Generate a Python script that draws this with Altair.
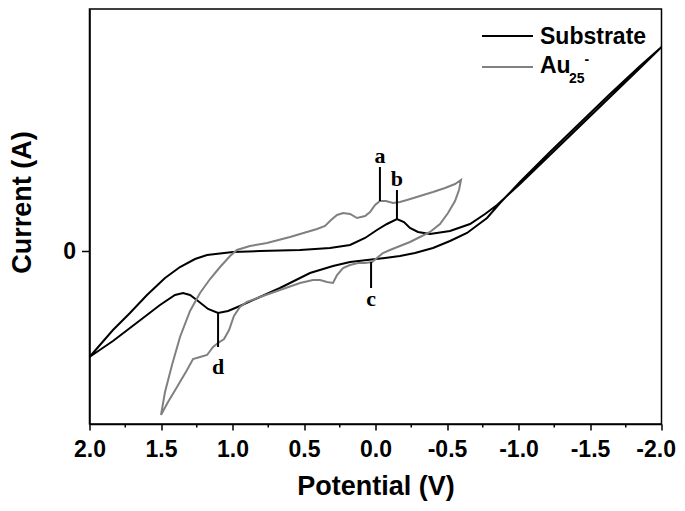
import altair as alt
import pandas as pd

# ---- data (potential in V, current in arbitrary units) ----
sub_V = [2.0, 1.836, 1.717, 1.598, 1.472, 1.367, 1.262, 1.178, 0.997, 0.808, 0.528, 0.318,
         0.178, 0.073, -0.010, -0.080, -0.150, -0.199, -0.241, -0.297, -0.381, -0.521,
         -0.661, -0.766, -0.850, -1.010, -1.220, -1.430, -1.640, -1.850, -2.0,
         -1.850, -1.640, -1.430, -1.220, -1.010, -0.871, -0.780, -0.640, -0.521, -0.402,
         -0.276, -0.171, -0.066, 0.059, 0.178, 0.297, 0.458, 0.668, 0.808, 0.948, 1.031,
         1.101, 1.171, 1.241, 1.297, 1.346, 1.402, 1.507, 1.598, 1.717, 1.836, 2.0]
sub_I = [-10.6, -7.9, -6.2, -4.4, -2.7, -1.6, -0.8, -0.4, -0.1, 0.0, 0.1, 0.3,
         0.6, 1.3, 2.1, 2.7, 3.2, 2.9, 2.3, 1.9, 1.7, 2.0,
         2.7, 3.7, 4.6, 6.7, 9.6, 12.5, 15.4, 18.3, 20.4,
         18.5, 15.7, 12.8, 9.9, 6.9, 4.8, 3.3, 1.8, 1.0, 0.3,
         -0.2, -0.5, -0.7, -0.9, -1.1, -1.5, -2.2, -3.7, -4.6, -5.5, -6.0,
         -6.2, -5.8, -5.0, -4.4, -4.2, -4.4, -5.4, -6.4, -7.7, -9.0, -10.6]

au_V = [1.5, 1.472, 1.423, 1.367, 1.297, 1.227, 1.157, 1.087, 1.017, 0.969, 0.878, 0.759,
        0.598, 0.409, 0.353, 0.311, 0.269, 0.227, 0.178, 0.129, 0.073, 0.038, 0.003,
        -0.031, -0.073, -0.122, -0.171, -0.220, -0.311, -0.402, -0.486, -0.556, -0.598,
        -0.584, -0.556, -0.507, -0.451, -0.381, -0.311, -0.241, -0.171, -0.101, -0.052,
        -0.010, 0.024, 0.073, 0.122, 0.178, 0.227, 0.269, 0.297, 0.339, 0.388, 0.437,
        0.528, 0.668, 0.808, 0.899, 0.948, 0.990, 1.024, 1.059, 1.101, 1.136, 1.178,
        1.227, 1.276, 1.318, 1.388, 1.451, 1.5]
au_I = [-16.4, -14.1, -11.4, -8.6, -6.0, -4.2, -2.8, -1.6, -0.5, 0.1, 0.5, 0.8,
        1.4, 2.2, 2.5, 3.1, 3.6, 3.8, 3.7, 3.3, 3.5, 3.9, 4.6,
        5.0, 5.0, 4.8, 4.9, 5.1, 5.5, 5.9, 6.3, 6.7, 7.1,
        6.1, 5.0, 3.8, 2.7, 1.9, 1.4, 0.9, 0.5, 0.1, -0.2,
        -0.7, -1.1, -1.2, -1.2, -1.4, -1.7, -2.4, -3.2, -3.1, -2.9, -2.9,
        -3.2, -3.9, -4.6, -5.1, -5.6, -6.5, -7.9, -8.8, -9.2, -9.6, -10.4,
        -10.6, -10.8, -11.9, -13.6, -15.1, -16.4]

series_names = ["Substrate", "Au25-"]
series_colors = ["#000000", "#808080"]

# peak markers
mark_labels = ["a", "b", "c", "d"]
mark_V = [-0.031, -0.150, 0.031, 1.101]
mark_from = [5.0, 3.2, -1.1, -6.2]
mark_to = [8.4, 6.1, -3.7, -9.6]
mark_text_I = [9.5, 7.2, -4.8, -11.6]

x_major = [2.0, 1.5, 1.0, 0.5, 0.0, -0.5, -1.0, -1.5, -2.0]
x_minor = [1.75, 1.25, 0.75, 0.25, -0.25, -0.75, -1.25, -1.75]
y_ticks = [0]

W, H = 572, 415
FONT = "Liberation Sans"

rows = []
for k, (v, i) in enumerate(zip(sub_V, sub_I)):
    rows.append({"V": v, "I": i, "series": series_names[0], "i": k})
for k, (v, i) in enumerate(zip(au_V, au_I)):
    rows.append({"V": v, "I": i, "series": series_names[1], "i": k})
df = pd.DataFrame(rows)

dm = pd.DataFrame({"lab": mark_labels, "V": mark_V, "y1": mark_from, "y2": mark_to,
                   "yt": mark_text_I})
dminor = pd.DataFrame({"V": x_minor})

xscale = alt.Scale(domain=[2.0, -2.0], nice=False, zero=False)
yscale = alt.Scale(domain=[-17.3, 24.2], nice=False, zero=False)

lab_expr = "datum.value < 0 ? '-' + format(-datum.value, '.1f') : format(datum.value, '.1f')"

xaxis = alt.Axis(values=x_major, labelExpr=lab_expr, title="Potential (V)", grid=False,
                 tickSize=6, labelPadding=8, titlePadding=12, labelFlush=False,
                 labelOverlap=False,
                 labelAlign={"condition": {"test": "datum.value <= -1.99", "value": "right"},
                             "value": "center"},
                 labelOffset={"condition": {"test": "datum.value <= -1.99", "value": 14},
                              "value": 0})
yaxis = alt.Axis(values=y_ticks, labelExpr="'0'", title="Current (A)", grid=False,
                 tickSize=8, labelPadding=6, titlePadding=26, titleY=193)

lines = alt.Chart(df).mark_line(strokeWidth=2).encode(
    x=alt.X("V:Q", scale=xscale, axis=xaxis),
    y=alt.Y("I:Q", scale=yscale, axis=yaxis),
    color=alt.Color("series:N",
                    scale=alt.Scale(domain=series_names, range=series_colors),
                    legend=None),
    order=alt.Order("i:Q"),
)

rules = alt.Chart(dm).mark_rule(color="black", strokeWidth=2).encode(
    x=alt.X("V:Q", scale=xscale), y=alt.Y("y1:Q", scale=yscale), y2="y2:Q")

texts = alt.Chart(dm).mark_text(font="Liberation Serif", fontWeight="bold", fontSize=22,
                                baseline="middle", align="center", color="black").encode(
    x=alt.X("V:Q", scale=xscale), y=alt.Y("yt:Q", scale=yscale), text="lab:N")

minor = alt.Chart(dminor).mark_rule(color="black", strokeWidth=1.5).encode(
    x=alt.X("V:Q", scale=xscale), y=alt.value(H), y2=alt.value(H + 3.5))

# ---- legend (drawn by hand so that Au25- can carry its sub/superscript) ----
leg_src = pd.DataFrame({"k": [0]})
base = alt.Chart(leg_src)
leg_sub_line = base.mark_rule(color=series_colors[0], strokeWidth=2).encode(
    x=alt.value(392.5), x2=alt.value(443.5), y=alt.value(27))
leg_au_line = base.mark_rule(color=series_colors[1], strokeWidth=2).encode(
    x=alt.value(392.5), x2=alt.value(443.5), y=alt.value(58))
leg_sub_txt = base.mark_text(text="Substrate", font=FONT, fontWeight="bold", fontSize=23,
                             align="left", baseline="alphabetic", color="black").encode(
    x=alt.value(450.5), y=alt.value(35))
leg_au_txt = base.mark_text(text="Au", font=FONT, fontWeight="bold", fontSize=23,
                            align="left", baseline="alphabetic", color="black").encode(
    x=alt.value(450.5), y=alt.value(64))
leg_au_sub = base.mark_text(text="25", font=FONT, fontWeight="bold", fontSize=14,
                            align="left", baseline="alphabetic", color="black").encode(
    x=alt.value(479.5), y=alt.value(74))
leg_au_sup = base.mark_text(text="-", font=FONT, fontWeight="bold", fontSize=14,
                            align="left", baseline="alphabetic", color="black").encode(
    x=alt.value(495), y=alt.value(55))

chart = alt.layer(lines, rules, texts, minor, leg_sub_line, leg_au_line, leg_sub_txt,
                  leg_au_txt, leg_au_sub, leg_au_sup).properties(
    width=W, height=H,
    autosize=alt.AutoSizeParams(type="none"),
    padding={"left": 81.5, "top": 1, "right": 15, "bottom": 78},
).configure_view(stroke="black", strokeWidth=1.5).configure_axis(
    domainColor="black", domainWidth=1.5, tickColor="black", tickWidth=1.5,
    labelFont=FONT, labelFontSize=23, labelFontWeight="bold", labelColor="black",
    titleFont=FONT, titleFontSize=27, titleFontWeight="bold", titleColor="black",
)

chart.save("out.html", embed_options={"renderer": "svg", "actions": False})
